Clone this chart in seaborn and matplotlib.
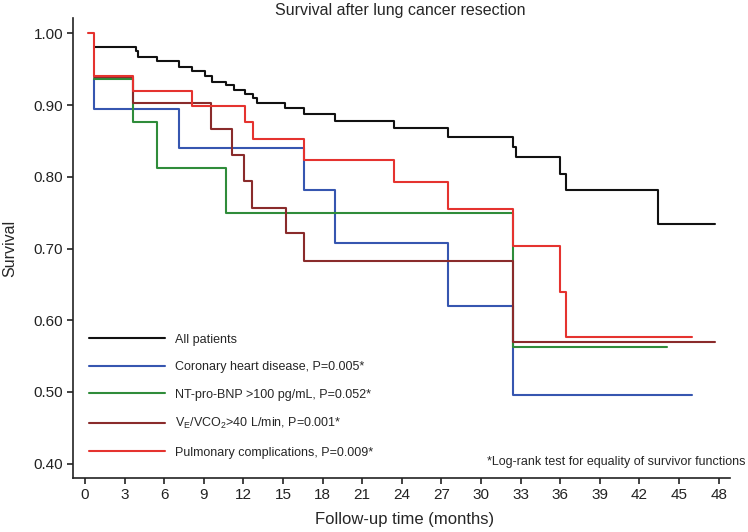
import numpy as np
import pandas as pd
import seaborn as sns
import matplotlib
matplotlib.use("Agg")
import matplotlib.pyplot as plt
from matplotlib.ticker import FormatStrFormatter

# Kaplan-Meier step values (time in months, survival)
all_t = [0.68, 3.86, 4.04, 5.48, 7.15, 8.1, 9.1, 9.6, 10.7, 11.3, 12.1, 12.7, 13.0,
         15.15, 16.6, 18.9, 23.4, 27.5, 32.4, 32.65, 35.98, 36.4, 43.4, 47.7]
all_s = [0.981, 0.975, 0.967, 0.961, 0.953, 0.947, 0.940, 0.933, 0.928, 0.921, 0.915, 0.910, 0.903,
         0.896, 0.887, 0.878, 0.868, 0.856, 0.842, 0.827, 0.804, 0.781, 0.734, 0.734]

chd_t = [0.68, 0.68, 7.15, 16.6, 18.9, 27.5, 32.4, 45.96]
chd_s = [0.937, 0.894, 0.840, 0.781, 0.708, 0.620, 0.496, 0.496]

bnp_t = [0.68, 3.66, 5.48, 10.68, 32.4, 44.07]
bnp_s = [0.936, 0.876, 0.812, 0.750, 0.562, 0.562]

ve_t = [0.68, 3.66, 9.52, 11.1, 12.07, 12.68, 15.2, 16.6, 32.4, 47.7]
ve_s = [0.939, 0.903, 0.867, 0.830, 0.794, 0.757, 0.722, 0.683, 0.569, 0.569]

pulm_t = [0.25, 0.68, 3.66, 8.13, 12.1, 12.7, 16.6, 23.4, 27.5, 32.4, 35.98, 36.4, 45.96]
pulm_s = [1.0, 0.940, 0.920, 0.899, 0.877, 0.853, 0.824, 0.793, 0.755, 0.704, 0.640, 0.576, 0.576]

labels = ["All patients",
          "Coronary heart disease, P=0.005*",
          "NT-pro-BNP >100 pg/mL, P=0.052*",
          r"V$_E$/VCO$_2$>40 L/min, P=0.001*",
          "Pulmonary complications, P=0.009*"]
colors = ["#111111", "#3656b0", "#2f8c3a", "#8a2b2b", "#e5332f"]

x_ticks = list(range(0, 49, 3))
y_ticks = [0.40, 0.50, 0.60, 0.70, 0.80, 0.90, 1.00]

frames = []
for lab, t, s in zip(labels, [all_t, chd_t, bnp_t, ve_t, pulm_t],
                     [all_s, chd_s, bnp_s, ve_s, pulm_s]):
    frames.append(pd.DataFrame({"time": t, "surv": s, "group": lab}))
df = pd.concat(frames, ignore_index=True)

sns.set_style("ticks")
plt.rcParams["font.family"] = ["Liberation Sans", "DejaVu Sans"]
plt.rcParams["mathtext.default"] = "regular"

fig = plt.figure(figsize=(7.48, 5.32), dpi=100)
ax = fig.add_axes([73 / 748, 54 / 532, 657 / 748, 460 / 532])

sns.lineplot(data=df, x="time", y="surv", hue="group", hue_order=labels,
             palette=colors, drawstyle="steps-post", estimator=None, sort=False,
             linewidth=1.5, ax=ax)

ax.set_xlim(-0.91, 48.86)
ax.set_ylim(0.3798, 1.0216)
ax.set_xticks(x_ticks)
ax.set_yticks(y_ticks)
ax.yaxis.set_major_formatter(FormatStrFormatter("%.2f"))
sns.despine(ax=ax)
for sp in ["left", "bottom"]:
    ax.spines[sp].set_linewidth(1.2)
    ax.spines[sp].set_color("#222222")
ax.tick_params(length=4.5, width=1.2, direction="out", labelsize=11, pad=2.5,
               colors="#222222")

ax.set_xlabel("Follow-up time (months)", fontsize=12)
ax.set_ylabel("Survival", fontsize=11.5)
ax.xaxis.set_label_coords(0.504, -0.091)
ax.xaxis.label.set_va("center")
ax.yaxis.set_label_coords(-0.097, 0.5)
ax.yaxis.label.set_va("center")

fig.text(400 / 748, 1 - 11 / 532, "Survival after lung cancer resection",
         ha="center", va="center", fontsize=11.5)
ax.text(1.023, 0.035, "*Log-rank test for equality of survivor functions",
        transform=ax.transAxes, ha="right", va="center", fontsize=9)

sns.move_legend(ax, "upper left", bbox_to_anchor=(0.0244, 0.314), frameon=False,
                title=None, fontsize=9, handlelength=6.1, handletextpad=0.8,
                labelspacing=1.24, borderpad=0, borderaxespad=0)

fig.savefig("out.png", dpi=100)
